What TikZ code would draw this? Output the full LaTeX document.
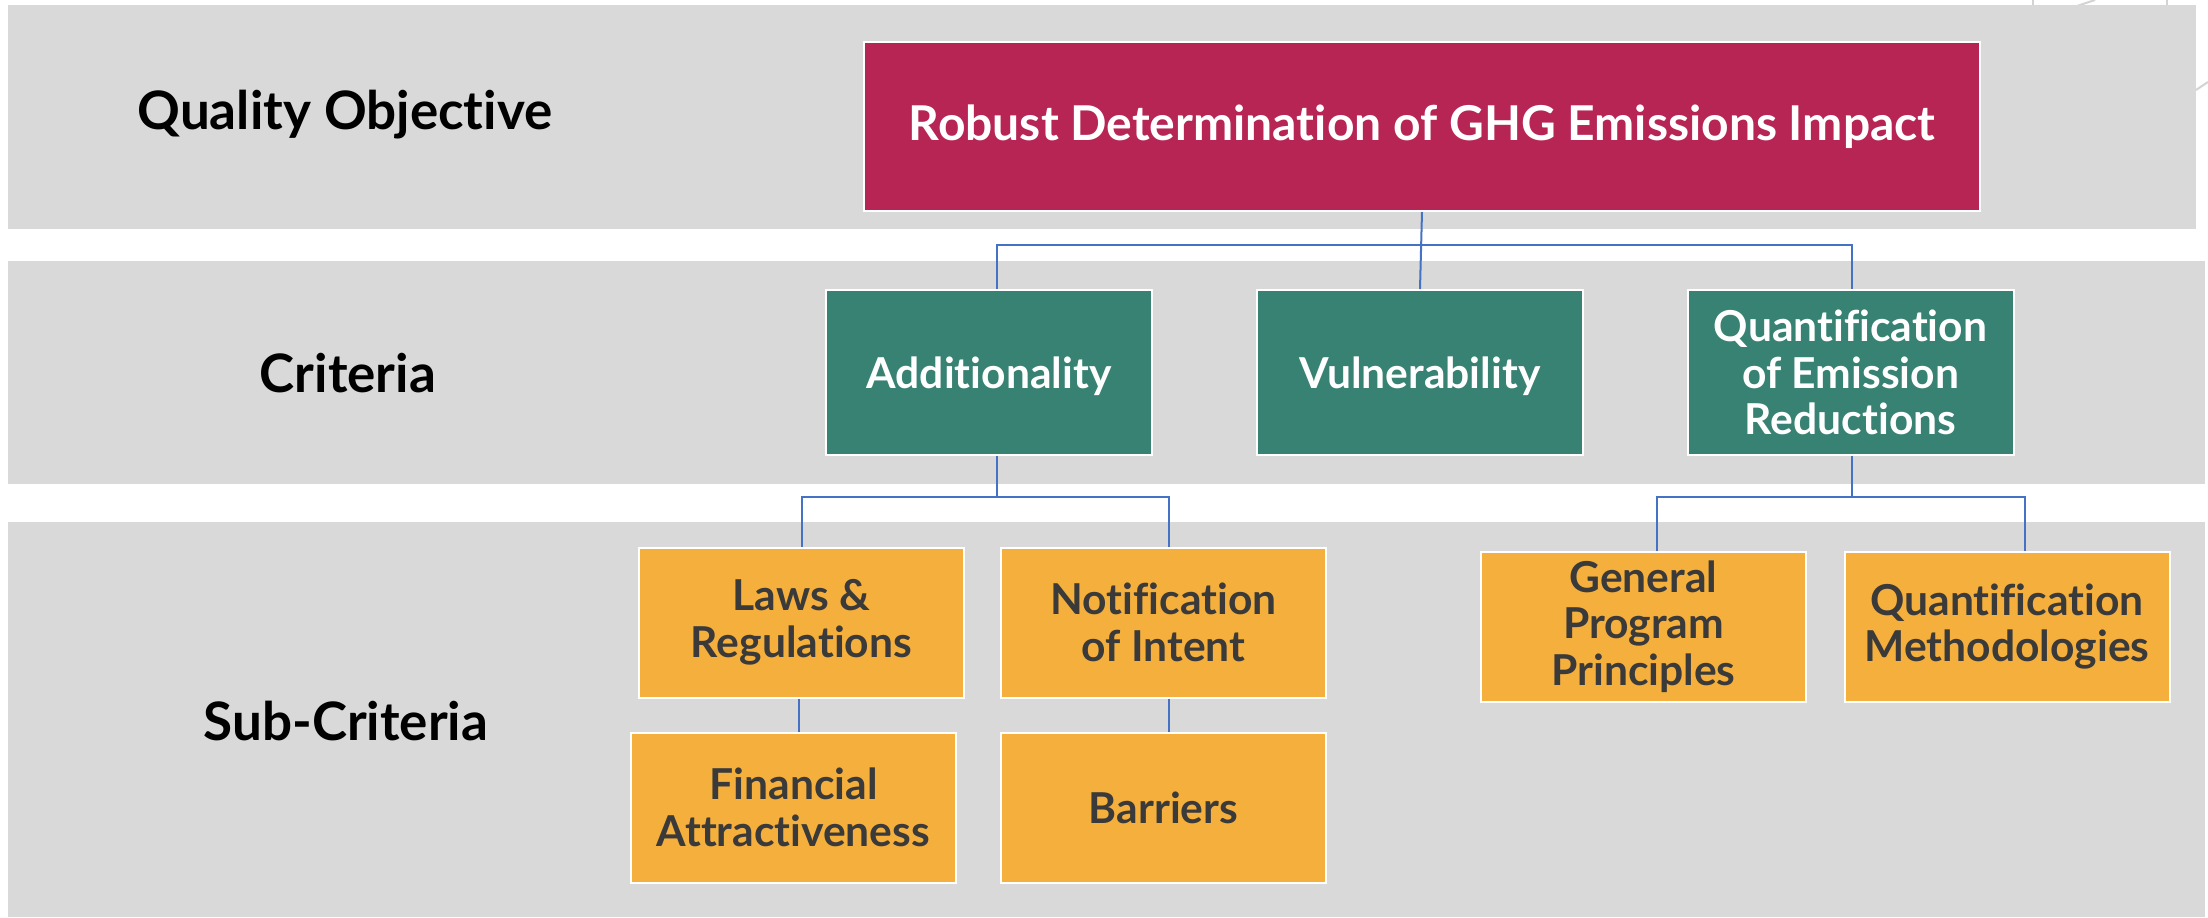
\documentclass[tikz,border=0pt]{standalone}
\usepackage{fontspec}
\setmainfont{Lato}[Ligatures={NoCommon}]
\usetikzlibrary{calc}
\definecolor{band}{HTML}{D9D9D9}
\definecolor{redbox}{HTML}{B72555}
\definecolor{greenbox}{HTML}{388274}
\definecolor{orangebox}{HTML}{F5AF3C}
\definecolor{conncol}{HTML}{4472C4}
\definecolor{darktext}{HTML}{3A3A3A}
\definecolor{faint}{HTML}{D3D3D3}
\newcommand{\lowertxt}[1]{\raisebox{-2pt}[\height][\depth]{#1}}
\tikzset{
  box/.style={draw=white, line width=1pt, inner sep=0pt, align=center, font=\fontsize{21.3}{23.3}\selectfont\bfseries},
  redb/.style={box, fill=redbox, text=white, minimum width=558pt, minimum height=84.5pt, font=\fontsize{24}{26}\selectfont\bfseries},
  greenb/.style={box, fill=greenbox, text=white, minimum width=163pt, minimum height=82.5pt},
  orangeb/.style={box, fill=orangebox, text=darktext, minimum width=162.5pt, minimum height=75pt},
  rowlabel/.style={font=\fontsize{26.5}{28}\selectfont\bfseries, text=black},
  conn/.style={draw=conncol, line width=1pt},
  bandfill/.style={fill=band, draw=none},
  faintline/.style={draw=faint, line width=1pt}
}
\begin{document}
\begin{tikzpicture}[x=0.5pt,y=-0.5pt]
\useasboundingbox (0,0) rectangle (2208,917);
\fill[white] (0,0) rectangle (2208,917);
% faint background lines
\draw[faintline] (2033,0) -- (2033,6);
\draw[faintline] (2077,6) -- (2095,0);
\draw[faintline] (2167,0) -- (2167,6);
\draw[faintline] (2196,90) -- (2208,82);
% bands
\path[bandfill] (8,5) rectangle (2196,229);
\path[bandfill] (8,261) rectangle (2205,484);
\path[bandfill] (8,522) rectangle (2205,917);
% row labels
\node[rowlabel] (lq) at (345,115) {Quality Objective};
\node[rowlabel] (lc) at (348,373) {Criteria};
\node[rowlabel] (ls) at (346,721) {Sub-Criteria};
% boxes
\node[redb] (red) at (1422,126.5) {Robust Determination of GHG Emissions Impact};
\node[greenb] (add) at (989,372.5) {\lowertxt{Additionality}};
\node[greenb] (vul) at (1420,372.5) {\lowertxt{Vulnerability}};
\node[greenb] (qer) at (1850.5,372.5) {Quantification\\of Emission\\Reductions};
\node[orangeb] (laws) at (801.5,622.5) {Laws \&\\Regulations};
\node[orangeb] (notif) at (1163.5,622.5) {Notification\\of Intent};
\node[orangeb] (gen) at (1643.5,626.5) {General\\Program\\Principles};
\node[orangeb] (qm) at (2007,626.5) {Quantification\\Methodologies};
\node[orangeb] (fin) at (793.5,807.5) {Financial\\Attractiveness};
\node[orangeb] (bar) at (1163.5,807.5) {Barriers};
% connectors
\coordinate (b1) at ($(red.south)+(0,33)$);
\draw[conn] (red.south) -- (vul.north);
\draw[conn] ($(add.north)+(8,0)$) |- (b1) -| ($(qer.north)+(1,0)$);
\coordinate (b2) at ($(add.south)+(8,41)$);
\draw[conn] ($(add.south)+(8,0)$) -- (b2);
\draw[conn] ($(laws.north)+(0,0)$) |- (b2) -| ($(notif.north)+(5,0)$);
\coordinate (b3) at ($(qer.south)+(1,41)$);
\draw[conn] ($(qer.south)+(1,0)$) -- (b3);
\draw[conn] ($(gen.north)+(13,0)$) |- (b3) -| ($(qm.north)+(18,0)$);
\draw[conn] ($(laws.south)+(-3,0)$) -- ($(fin.north)+(5,0)$);
\draw[conn] ($(notif.south)+(5,0)$) -- ($(bar.north)+(5,0)$);
\end{tikzpicture}
\end{document}
